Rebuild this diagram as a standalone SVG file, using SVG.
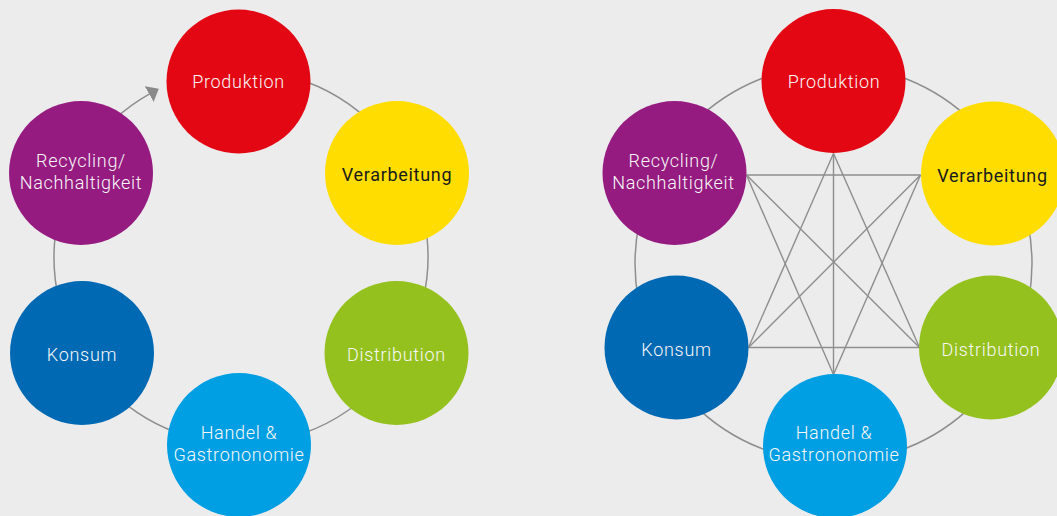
<svg xmlns="http://www.w3.org/2000/svg" width="1057" height="516" viewBox="0 0 1057 516">
  <style>
    .ring { fill: none; stroke: #8e8e8e; stroke-width: 1.5; }
    .link { stroke: #8e8e8e; stroke-width: 1.4; fill: none; }
    .lbl { font-family: Roboto, "Liberation Sans", sans-serif; font-size: 18px; font-weight: 300; letter-spacing: 0.7px; fill: #f7f7f7; text-anchor: middle; }
    .dark { fill: #1a1a1a; font-weight: 400; }
    .red { fill: #e30613; }
    .yellow { fill: #ffdd00; }
    .green { fill: #95c11f; }
    .cyan { fill: #009fe3; }
    .blue { fill: #0069b4; }
    .purple { fill: #951b81; }
  </style>
  <defs>
    <marker id="arrow" viewBox="0 0 11 18" refX="0" refY="9" markerWidth="11" markerHeight="18" markerUnits="userSpaceOnUse" orient="auto">
      <path d="M0,0 L11,9 L0,18 z" fill="#8a8a8a"/>
    </marker>
  </defs>
  <rect width="1057" height="516" fill="#ececec"/>

  <!-- Left cycle: ring with arrow -->
  <g id="connectors-cycle">
    <path class="ring" d="M208.53,72.84 A187,187 0 1 1 149.2,94.08" marker-end="url(#arrow)"/>
  </g>

  <g id="cycle-produktion">
    <circle class="red" cx="238.5" cy="81.5" r="72"/>
    <text class="lbl" x="238.5" y="88">Produktion</text>
  </g>
  <g id="cycle-verarbeitung">
    <circle class="yellow" cx="397" cy="173" r="72"/>
    <text class="lbl dark" x="397" y="181">Verarbeitung</text>
  </g>
  <g id="cycle-distribution">
    <circle class="green" cx="396.5" cy="353" r="72"/>
    <text class="lbl" x="396.5" y="361">Distribution</text>
  </g>
  <g id="cycle-handel">
    <circle class="cyan" cx="239" cy="445" r="72"/>
    <text class="lbl" x="239" y="438.5">Handel &amp;</text>
    <text class="lbl" x="239" y="461">Gastrononomie</text>
  </g>
  <g id="cycle-konsum">
    <circle class="blue" cx="82" cy="353" r="72"/>
    <text class="lbl" x="82" y="361">Konsum</text>
  </g>
  <g id="cycle-recycling">
    <circle class="purple" cx="81" cy="173" r="72"/>
    <text class="lbl" x="81" y="166.5">Recycling/</text>
    <text class="lbl" x="81" y="189">Nachhaltigkeit</text>
  </g>

  <!-- Right network: ring plus cross links -->
  <g id="connectors-network">
    <circle class="ring" cx="833.5" cy="263.5" r="198.5"/>
    <line class="link" x1="833.5" y1="153.5" x2="833.5" y2="374.5"/>
    <line class="link" x1="833.5" y1="153.5" x2="748.5" y2="347.5"/>
    <line class="link" x1="833.5" y1="153.5" x2="919.5" y2="347.5"/>
    <line class="link" x1="746.5" y1="175" x2="920.5" y2="175"/>
    <line class="link" x1="748.5" y1="347.5" x2="919.5" y2="347.5"/>
    <line class="link" x1="746.5" y1="175" x2="919.5" y2="347.5"/>
    <line class="link" x1="748.5" y1="347.5" x2="920.5" y2="175"/>
    <line class="link" x1="746.5" y1="175" x2="833.5" y2="374.5"/>
    <line class="link" x1="920.5" y1="175" x2="833.5" y2="374.5"/>
  </g>

  <g id="net-produktion">
    <circle class="red" cx="833.5" cy="81" r="72"/>
    <text class="lbl" x="834" y="88">Produktion</text>
  </g>
  <g id="net-verarbeitung">
    <circle class="yellow" cx="993" cy="173.5" r="72"/>
    <text class="lbl dark" x="992.5" y="181.5">Verarbeitung</text>
  </g>
  <g id="net-distribution">
    <circle class="green" cx="991" cy="347.5" r="72"/>
    <text class="lbl" x="991" y="356">Distribution</text>
  </g>
  <g id="net-handel">
    <circle class="cyan" cx="835" cy="446" r="72"/>
    <text class="lbl" x="834" y="439">Handel &amp;</text>
    <text class="lbl" x="834" y="461">Gastrononomie</text>
  </g>
  <g id="net-konsum">
    <circle class="blue" cx="676.5" cy="347.5" r="72"/>
    <text class="lbl" x="676.5" y="356">Konsum</text>
  </g>
  <g id="net-recycling">
    <circle class="purple" cx="674.5" cy="173" r="72"/>
    <text class="lbl" x="673.5" y="166.5">Recycling/</text>
    <text class="lbl" x="673.5" y="189">Nachhaltigkeit</text>
  </g>
</svg>
